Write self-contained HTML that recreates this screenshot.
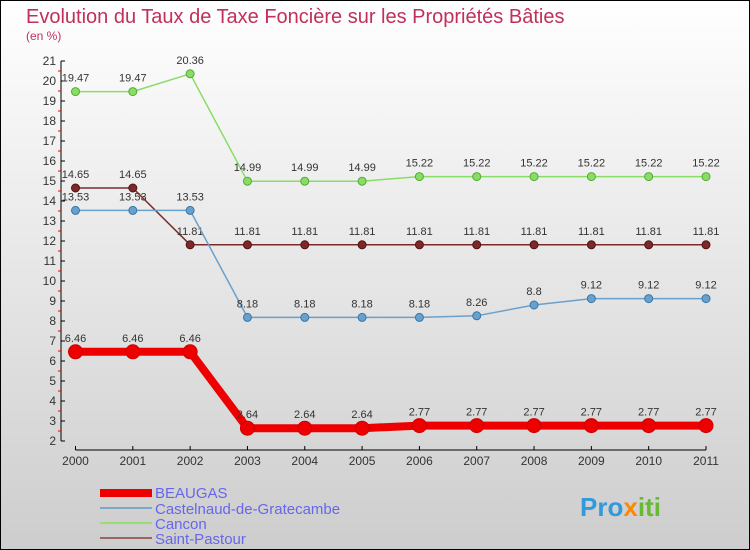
<!DOCTYPE html>
<html><head><meta charset="utf-8"><style>
body{margin:0;}
svg{display:block;font-family:"Liberation Sans",sans-serif;}
</style></head><body>
<svg width="750" height="550" xmlns="http://www.w3.org/2000/svg">
<defs><linearGradient id="bg" x1="0" y1="0" x2="0" y2="1"><stop offset="0" stop-color="#ffffff"/><stop offset="1" stop-color="#cdcdcd"/></linearGradient></defs>
<rect x="0.5" y="0.5" width="749" height="549" fill="url(#bg)" stroke="#000"/>
<text x="26" y="23" font-size="20" fill="#c0305a">Evolution du Taux de Taxe Foncière sur les Propriétés Bâties</text>
<text x="26" y="40" font-size="12" fill="#c0305a">(en %)</text>
<g id="axes"></g>
<g id="series"></g>
<g id="legend">
<rect x="100" y="489" width="52" height="8" fill="#ee0000"/>
<text x="155" y="498" font-size="15" fill="#6666ee">BEAUGAS</text>
<rect x="100" y="507" width="52" height="2" fill="#7aa8c8"/>
<text x="155" y="514" font-size="15" fill="#6666ee">Castelnaud-de-Gratecambe</text>
<rect x="100" y="522" width="52" height="2" fill="#99dd77"/>
<text x="155" y="529" font-size="15" fill="#6666ee">Cancon</text>
<rect x="100" y="537" width="52" height="2" fill="#996666"/>
<text x="155" y="544" font-size="15" fill="#6666ee">Saint-Pastour</text>
</g>
<text x="580" y="516" font-size="26" font-weight="bold" fill="#3399dd">Pro<tspan fill="#ff8800">x</tspan><tspan fill="#66bb33">iti</tspan></text>
</svg>
<script>
const years=["2000","2001","2002","2003","2004","2005","2006","2007","2008","2009","2010","2011"];
const yTicks=[2,3,4,5,6,7,8,9,10,11,12,13,14,15,16,17,18,19,20,21];
const beaugas=[6.46,6.46,6.46,2.64,2.64,2.64,2.77,2.77,2.77,2.77,2.77,2.77];
const castelnaud=[13.53,13.53,13.53,8.18,8.18,8.18,8.18,8.26,8.8,9.12,9.12,9.12];
const cancon=[19.47,19.47,20.36,14.99,14.99,14.99,15.22,15.22,15.22,15.22,15.22,15.22];
const saintPastour=[14.65,14.65,11.81,11.81,11.81,11.81,11.81,11.81,11.81,11.81,11.81,11.81];
const NS="http://www.w3.org/2000/svg";
const xs=i=>75.5+i*(706-75.5)/11;
const ys=v=>441-(v-2)*(441-61)/19;
function mk(p,t,a){const e=document.createElementNS(NS,t);for(const k in a)e.setAttribute(k,a[k]);p.appendChild(e);return e;}
const ax=document.getElementById('axes');
let e=mk(ax,'line',{x1:61,y1:61,x2:61,y2:441,stroke:'#000'});


e=mk(ax,'line',{x1:75.5,y1:450,x2:706,y2:450,stroke:'#000'});


yTicks.forEach(v=>{const y=ys(v);
mk(ax,'line',{x1:61,y1:y,x2:65,y2:y,stroke:'#000'});
if(v<21)mk(ax,'line',{x1:58,y1:y-10,x2:61,y2:y-10,stroke:'#e00'});
const t=mk(ax,'text',{x:56,y:y+4,'font-size':12,'text-anchor':'end',fill:'#333'});t.textContent=v;

});
years.forEach((yr,i)=>{const x=xs(i);
mk(ax,'line',{x1:x,y1:446,x2:x,y2:450,stroke:'#000'});
const t=mk(ax,'text',{x:x,y:465,'font-size':12,'text-anchor':'middle',fill:'#333'});t.textContent=yr;

});
const sg=document.getElementById('series');
function series(name,vals,color,w,r,lab){
const g=mk(sg,'g',{});


mk(g,'polyline',{points:vals.map((v,i)=>xs(i)+','+ys(v)).join(' '),fill:'none',stroke:color,'stroke-width':w,'stroke-linejoin':'round'});
vals.forEach((v,i)=>{const c=mk(g,'circle',{cx:xs(i),cy:ys(v),r:r,fill:color,stroke:lab});


const t=mk(g,'text',{x:xs(i),y:ys(v)-10,'font-size':11,'text-anchor':'middle',fill:'#333'});t.textContent=v;

});}
series('cancon',cancon,'#88dd66',1.5,4,'#55aa33');
series('saint-pastour',saintPastour,'#7a2a2a',1.5,4,'#551111');
series('castelnaud',castelnaud,'#6aa0cc',1.5,4,'#3377aa');
series('beaugas',beaugas,'#ee0000',8,7,'#cc0000');
</script>
</body></html>
